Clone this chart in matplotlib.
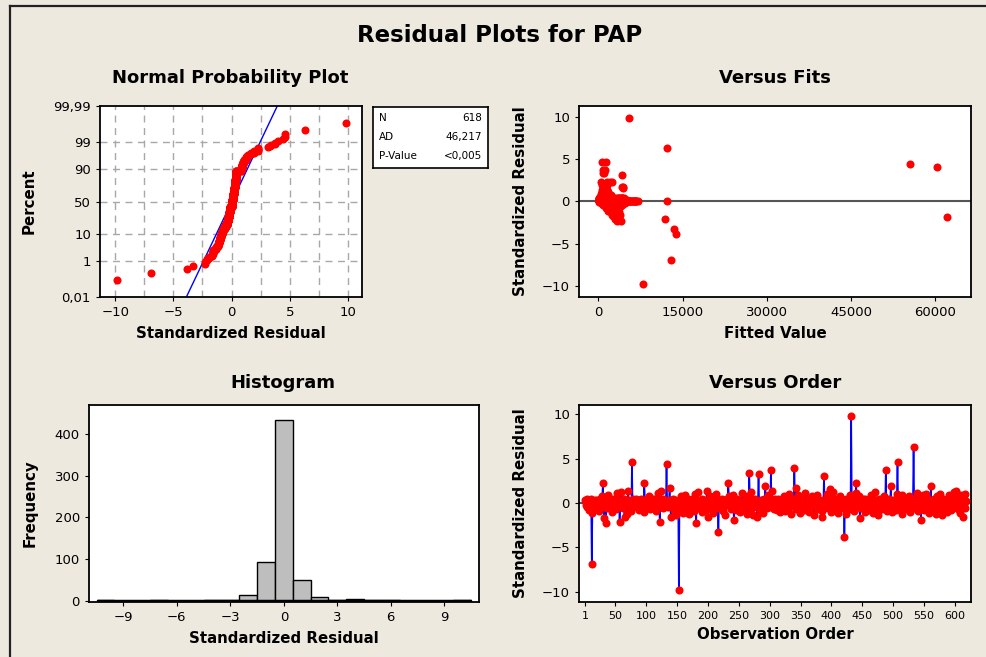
import numpy as np
import matplotlib
matplotlib.use("Agg")
import matplotlib.pyplot as plt
from statistics import NormalDist

# standardized residuals in observation order
residuals = [
    0.3, -0.2, 0.1, -0.4, 0.4, 0.2, -0.1, -0.8, 0.0, 0.4, -0.3, -6.9, -1.1, 0.2, -0.6, 0.1, -0.2, 0.3, -0.4, 0.3,
    -0.1, 0.2, -0.9, 0.0, 0.4, -0.3, 0.1, -0.2, 0.8, 2.3, -0.4, -1.7, 0.3, -0.1, -2.3, 0.2, -0.6, 0.0, 0.9, -0.2,
    0.1, -0.3, 0.4, -1.0, 0.2, 0.0, -0.1, 0.4, -0.4, 0.3, -0.7, 0.1, 1.1, -0.2, 0.0, 0.3, -2.1, -0.3, 1.2, -0.1,
    0.2, -0.6, 0.0, 0.4, -1.6, 0.1, -0.2, 0.3, -1.2, 0.3, 1.3, -0.3, 0.1, -0.1, 0.2, -0.9, 4.6, 0.4, -0.2, 0.0,
    -0.3, 0.1, 0.4, -0.1, 0.2, -0.4, 0.0, -0.8, 0.3, -0.2, 0.1, 0.4, -0.6, 0.2, -0.1, -1.0, 2.3, 0.3, -0.2, 0.0,
    0.2, -0.3, 0.1, 0.8, -0.1, 0.0, -0.7, 0.3, -0.2, 0.4, 0.1, -0.4, 0.4, -0.1, 0.2, -0.9, 0.0, 0.3, -0.2, 1.1,
    -0.1, -2.1, 0.2, 1.4, 0.0, -0.3, 0.4, -0.6, 0.1, -0.2, 0.3, -0.1, 4.4, 0.2, -0.4, 0.0, 0.3, 1.7, -0.3, -1.6,
    0.1, -0.2, 0.4, 0.0, -0.8, 0.3, -0.1, 0.2, -1.3, 0.1, -0.4, -0.7, -9.8, -0.6, 0.3, -0.2, 0.8, 0.0, -1.1, 0.2,
    -0.3, 0.1, 0.9, -0.1, 0.2, -0.7, 0.0, 0.4, -0.2, -1.2, 0.3, 0.1, -0.4, 0.4, -0.1, 0.0, -0.9, 0.2, 1.0, -0.3,
    -2.3, 0.2, -0.1, 1.2, 0.0, -0.6, 0.3, -0.2, 0.1, -1.0, 0.4, -0.3, 0.3, 0.0, -0.1, 0.2, -0.8, 1.3, -0.4, -1.6,
    0.1, 0.0, -0.2, 0.8, -0.7, 0.3, -0.1, 0.2, -1.1, 0.4, 0.0, -0.3, 1.0, -0.1, 0.2, -0.6, -3.3, 0.1, -0.2, 0.3,
    -0.4, 0.1, 0.4, -0.9, 0.0, 0.2, -0.1, -1.3, 0.3, -0.2, 0.4, 0.1, 2.3, 0.8, -0.3, 0.0, -0.7, 0.2, -0.1, 0.9,
    0.1, -1.9, 0.3, -0.2, -0.8, 0.0, 0.4, -0.1, 0.3, -0.4, 0.2, -1.0, 0.1, 0.0, -0.3, 1.1, -0.6, 0.2, -0.1, 0.3,
    -0.2, 0.1, -1.2, 0.8, 0.0, -0.3, 3.4, 0.2, -0.7, 1.2, -0.1, 0.4, -1.4, 0.0, 0.3, -0.2, 0.4, -0.4, 0.1, -1.6,
    0.2, 3.3, -0.1, 0.0, -0.9, 0.3, 0.3, -0.2, 0.1, -1.1, 0.4, -0.3, 1.9, 0.0, -0.6, 0.2, -0.1, 0.9, -0.4, 0.1,
    -0.2, 3.7, 0.3, 1.3, -0.1, 0.0, -0.7, 0.2, 0.4, -0.3, 0.1, -0.8, 0.4, 0.0, -0.2, 0.3, -1.0, 0.1, 0.3, -0.1,
    0.2, -0.4, 0.0, 0.8, -0.9, 0.1, -0.2, 0.3, -0.6, 0.0, 1.0, -0.1, 0.4, -1.2, 0.2, -0.3, 0.1, 0.4, -0.1, 4.0,
    0.3, -0.7, 1.7, 0.0, -0.2, 0.9, -0.1, 0.2, -1.1, 0.4, 0.1, -0.3, 0.3, 0.0, -0.8, 0.2, -0.1, 1.1, -0.4, 0.1,
    0.0, -0.2, 0.4, -1.0, 0.3, 0.1, -0.6, 0.2, 0.8, -0.1, 0.0, -1.3, 0.4, -0.3, 0.1, 0.9, -0.2, 0.0, -0.7, 0.3,
    0.1, -0.4, 0.2, -0.9, -1.6, 0.0, 0.3, 3.1, -0.1, 0.3, -0.3, 0.1, 1.0, -0.6, 0.2, -0.2, 0.4, 1.6, -1.0, 0.0,
    0.3, 1.2, -0.1, 0.0, -0.8, 0.2, 0.4, -0.3, 0.1, -1.1, 0.4, 0.0, -0.2, 0.8, -0.6, 0.1, -0.1, 0.3, -0.4, 0.2,
    -3.8, 0.0, -1.2, 0.4, 0.1, -0.2, 0.3, -0.7, 0.0, 0.9, 0.2, 9.8, 0.4, -0.1, 0.3, -0.9, 0.1, -0.3, 1.1, 2.3,
    0.0, 0.3, -0.4, 0.8, -0.1, -1.7, 0.2, -0.6, 0.1, 0.0, 0.4, -0.3, 0.2, -1.0, 0.4, -0.1, 0.0, 0.3, -0.2, 0.1,
    -0.8, 0.3, 0.0, 0.9, -0.2, 0.1, -1.1, 0.4, -0.3, 0.0, 1.2, 0.2, -0.6, -0.1, 0.3, -1.3, 0.4, 0.0, -0.2, 0.1,
    0.4, -0.7, 0.2, -0.1, 0.8, 0.0, -0.4, 3.7, 0.1, -0.9, 0.3, -0.2, 0.4, 0.0, -0.3, 1.9, 0.2, -1.0, 0.3, -0.1,
    0.1, -0.2, 0.3, 0.0, -0.8, 1.0, 4.6, -0.1, 0.2, -0.6, 0.4, -0.3, 0.1, 0.9, -1.2, 0.0, 0.3, -0.1, 0.4, -0.4,
    0.2, 0.0, -0.7, 0.1, 0.8, -0.2, 0.3, -1.0, 0.0, 0.4, -0.1, 0.3, 6.3, 0.2, -0.6, 0.1, -0.3, 1.1, 0.0, -0.9,
    0.3, -0.1, 0.4, 0.2, -1.9, 0.0, -0.4, 0.9, 0.1, -0.8, 0.3, -0.2, 1.0, 0.0, -0.6, 0.2, 0.4, -1.1, -0.1, 0.1,
    1.9, -0.3, 0.2, -0.7, 0.0, 0.4, -0.1, 0.3, -1.2, 0.1, 0.8, -0.4, 0.0, 0.2, -0.9, 1.0, -0.2, 0.1, -1.3, 0.4,
    0.0, -0.6, 0.3, 0.1, -0.2, 0.3, -1.0, 0.2, 0.0, -0.3, 0.9, -0.1, 0.4, -0.8, 0.1, 0.0, 0.4, -0.4, 1.2, 0.2,
    1.3, -0.2, 0.1, 0.8, -0.7, 0.0, 0.3, -1.1, 0.9, -0.1, 0.2, 0.4, -1.6, 0.4, -0.3, 1.0, -0.6, 0.2,
]

# fitted values, in hundreds
fitted_x100 = [
    4, 12, 21, 9, 2, 17, 33, 14, 6, 25, 11, 130, 19, 3, 27, 8, 38, 15, 22, 5,
    18, 7, 24, 46, 13, 29, 3, 16, 6, 15, 35, 27, 10, 21, 33, 2, 28, 52, 9, 14,
    11, 23, 5, 26, 17, 40, 8, 19, 31, 4, 22, 13, 7, 36, 1, 20, 30, 15, 10, 25,
    6, 32, 14, 21, 25, 3, 44, 12, 34, 8, 16, 27, 2, 19, 10, 23, 13, 37, 5, 64,
    15, 4, 28, 9, 18, 38, 2, 21, 11, 26, 7, 42, 30, 14, 20, 24, 25, 6, 35, 12,
    3, 17, 31, 22, 8, 13, 28, 5, 47, 19, 10, 36, 24, 2, 15, 29, 58, 9, 21, 11,
    26, 118, 7, 14, 33, 20, 4, 30, 16, 39, 12, 23, 555, 6, 18, 45, 27, 42, 10, 35,
    13, 21, 3, 55, 27, 9, 34, 17, 31, 6, 24, 19, 80, 38, 11, 15, 5, 68, 22, 2,
    19, 8, 12, 28, 4, 36, 16, 25, 10, 29, 14, 41, 22, 7, 33, 1, 26, 18, 9, 30,
    40, 5, 20, 11, 37, 23, 15, 43, 2, 28, 17, 12, 31, 49, 8, 24, 35, 6, 14, 32,
    22, 9, 30, 16, 25, 3, 41, 13, 27, 19, 62, 34, 10, 7, 21, 38, 135, 14, 26, 4,
    28, 15, 6, 33, 18, 11, 24, 36, 2, 20, 32, 9, 20, 14, 39, 27, 17, 45, 12, 5,
    16, 35, 8, 23, 30, 4, 19, 44, 12, 27, 3, 21, 36, 14, 9, 18, 25, 51, 31, 7,
    12, 26, 24, 17, 8, 34, 9, 20, 29, 13, 40, 5, 28, 66, 15, 22, 11, 33, 2, 38,
    19, 10, 27, 6, 32, 14, 3, 37, 23, 26, 9, 18, 7, 122, 24, 30, 16, 11, 42, 21,
    33, 12, 8, 15, 22, 48, 27, 4, 17, 36, 12, 29, 20, 57, 9, 2, 31, 25, 14, 39,
    7, 21, 35, 11, 30, 16, 43, 26, 18, 5, 13, 24, 41, 32, 3, 28, 19, 10, 37, 603,
    14, 25, 44, 70, 20, 8, 31, 2, 23, 16, 39, 12, 6, 28, 33, 47, 18, 15, 22, 10,
    26, 11, 35, 20, 5, 29, 14, 40, 9, 24, 1, 33, 18, 30, 42, 13, 21, 54, 27, 7,
    17, 38, 22, 27, 29, 10, 4, 43, 32, 15, 24, 8, 13, 35, 19, 46, 42, 44, 26, 67,
    21, 14, 28, 3, 36, 11, 23, 17, 40, 31, 6, 19, 25, 12, 34, 9, 45, 27, 16, 2,
    138, 29, 22, 13, 36, 18, 8, 31, 50, 15, 24, 55, 4, 39, 20, 26, 11, 33, 16, 5,
    9, 22, 28, 10, 41, 31, 17, 36, 3, 61, 20, 25, 14, 30, 7, 19, 38, 12, 23, 46,
    32, 16, 24, 7, 13, 37, 28, 11, 21, 44, 12, 2, 27, 34, 18, 24, 9, 20, 43, 15,
    6, 30, 19, 26, 15, 35, 22, 8, 12, 29, 39, 17, 4, 25, 33, 16, 42, 27, 10, 21,
    24, 13, 31, 56, 23, 10, 7, 40, 17, 35, 3, 28, 45, 11, 20, 14, 26, 32, 9, 37,
    18, 33, 25, 6, 14, 29, 38, 21, 3, 16, 43, 11, 122, 27, 36, 19, 24, 12, 60, 30,
    10, 22, 2, 35, 621, 26, 15, 13, 41, 28, 19, 31, 9, 48, 23, 6, 37, 25, 17, 30,
    14, 27, 8, 36, 20, 12, 33, 23, 18, 45, 16, 38, 7, 29, 24, 11, 40, 3, 32, 21,
    39, 26, 13, 20, 31, 5, 34, 16, 65, 22, 10, 28, 42, 37, 8, 17, 24, 29, 11, 35,
    9, 25, 41, 15, 32, 19, 3, 27, 12, 44, 22, 7, 30, 46, 18, 13, 36, 21,
]

assert len(residuals) == len(fitted_x100) == 618

stats_labels = ["N", "AD", "P-Value"]
stats_values = ["618", "46,217", "<0,005"]

pct_ticks = [0.01, 1, 10, 50, 90, 99, 99.99]
pct_labels = ["0,01", "1", "10", "50", "90", "99", "99,99"]
pct_grid = [1, 10, 50, 90, 99]

bg = "#EEE9DF"
red = "#FF0000"
plt.rcParams["font.family"] = "DejaVu Sans"
plt.rcParams["axes.linewidth"] = 1.3
plt.rcParams["xtick.labelsize"] = 9.5
plt.rcParams["ytick.labelsize"] = 9.5
plt.rcParams["xtick.major.size"] = 3
plt.rcParams["ytick.major.size"] = 3

res = np.array(residuals)
fits = np.array(fitted_x100) * 100
n = len(res)
order = np.arange(1, n + 1)
nd = NormalDist()

fig = plt.figure(figsize=(9.86, 6.57), dpi=100, facecolor=bg)

# outer frame (only top and left edges are visible)
fig.add_artist(plt.Line2D([10 / 986, 10 / 986], [0, 1 - 6 / 657], transform=fig.transFigure, color="#222222", lw=1.6))
fig.add_artist(plt.Line2D([10 / 986, 1], [1 - 6 / 657, 1 - 6 / 657], transform=fig.transFigure, color="#222222", lw=1.6))

fig.text(0.507, 1 - 36 / 657, "Residual Plots for PAP", ha="center", va="center", fontsize=16.5, fontweight="bold")

title_kw = dict(ha="center", va="center", fontsize=13, fontweight="bold")
fig.text(230 / 986, 1 - 78 / 657, "Normal Probability Plot", **title_kw)
fig.text(775 / 986, 1 - 78 / 657, "Versus Fits", **title_kw)
fig.text(283 / 986, 1 - 383 / 657, "Histogram", **title_kw)
fig.text(775 / 986, 1 - 383 / 657, "Versus Order", **title_kw)

lab_kw = dict(fontsize=10.8, fontweight="bold")

# --- normal probability plot ---
ax1 = fig.add_axes([100 / 986, 1 - 297 / 657, 262 / 986, 191 / 657])
zlim = nd.inv_cdf(0.0001)
xs = np.sort(res)
zs = np.array([nd.inv_cdf((i - 0.3) / (n + 0.4)) for i in range(1, n + 1)])
for g in np.arange(-10, 10.1, 2.5):
    ax1.axvline(g, color="#A8A8A8", lw=1, ls=(0, (5, 4)), zorder=0)
for p in pct_grid:
    ax1.axhline(nd.inv_cdf(p / 100), color="#A8A8A8", lw=1, ls=(0, (5, 4)), zorder=0)
zl = np.array([-4.5, 4.5])
ax1.plot(res.mean() + res.std() * zl, zl, color="#0000FF", lw=1, zorder=2)
ax1.plot(xs, zs, "o", color=red, ms=5.8, mew=0, zorder=3)
ax1.set_xlim(-11.3, 11.2)
ax1.set_ylim(zlim, -zlim)
ax1.set_xticks([-10, -5, 0, 5, 10])
ax1.set_yticks([nd.inv_cdf(p / 100) for p in pct_ticks])
ax1.set_yticklabels(pct_labels)
ax1.set_xlabel("Standardized Residual", labelpad=5, **lab_kw)
ax1.set_ylabel("Percent", labelpad=12, **lab_kw)

# stats box
axs = fig.add_axes([373 / 986, 1 - 168 / 657, 115 / 986, 61 / 657])
axs.set_xticks([])
axs.set_yticks([])
for s in axs.spines.values():
    s.set_linewidth(1.2)
for i, (k, v) in enumerate(zip(stats_labels, stats_values)):
    yy = 0.82 - i * 0.31
    axs.text(0.05, yy, k, fontsize=7.5, va="center", transform=axs.transAxes)
    axs.text(0.95, yy, v, fontsize=7.5, va="center", ha="right", transform=axs.transAxes)

# --- versus fits ---
ax2 = fig.add_axes([579 / 986, 1 - 297 / 657, 392 / 986, 191 / 657])
ax2.axhline(0, color="#555555", lw=1.5, zorder=1)
ax2.plot(fits, res, "o", color=red, ms=5.8, mew=0, zorder=3)
ax2.set_xlim(-3440, 66400)
ax2.set_ylim(-11.3, 11.26)
ax2.set_xticks([0, 15000, 30000, 45000, 60000])
ax2.set_yticks([-10, -5, 0, 5, 10])
ax2.set_xlabel("Fitted Value", labelpad=5, **lab_kw)
ax2.set_ylabel("Standardized Residual", labelpad=10, **lab_kw)

# --- histogram ---
ax3 = fig.add_axes([89 / 986, 1 - 602 / 657, 390 / 986, 197 / 657])
edges = np.arange(-10.5, 11.5, 1)
ax3.hist(res, bins=edges, color="#BEBEBE", edgecolor="black", lw=1, zorder=2)
ax3.hlines(0, edges[0], edges[-1], color="black", lw=2.5, zorder=3)
ax3.set_xlim(-10.93, 10.95)
ax3.set_ylim(-3, 470)
ax3.set_xticks([-9, -6, -3, 0, 3, 6, 9])
ax3.set_yticks([0, 100, 200, 300, 400])
ax3.set_xlabel("Standardized Residual", labelpad=5, **lab_kw)
ax3.set_ylabel("Frequency", labelpad=12, **lab_kw)

# --- versus order ---
ax4 = fig.add_axes([579 / 986, 1 - 602 / 657, 392 / 986, 197 / 657])
ax4.axhline(0, color="#555555", lw=1.5, zorder=1)
ax4.plot(order, res, color="#0000FF", lw=1.2, zorder=2)
ax4.plot(order, res, "o", color=red, ms=5.8, mew=0, zorder=3)
ax4.set_xlim(-8.7, 626)
ax4.set_ylim(-11.16, 11.05)
ax4.set_xticks([1, 50, 100, 150, 200, 250, 300, 350, 400, 450, 500, 550, 600])
ax4.set_yticks([-10, -5, 0, 5, 10])
ax4.tick_params(axis="x", labelsize=8)
ax4.set_xlabel("Observation Order", labelpad=4, **lab_kw)
ax4.set_ylabel("Standardized Residual", labelpad=10, **lab_kw)

for ax in (ax1, ax2, ax3, ax4):
    ax.set_facecolor("white")

fig.savefig("out.png", dpi=100, facecolor=bg)
